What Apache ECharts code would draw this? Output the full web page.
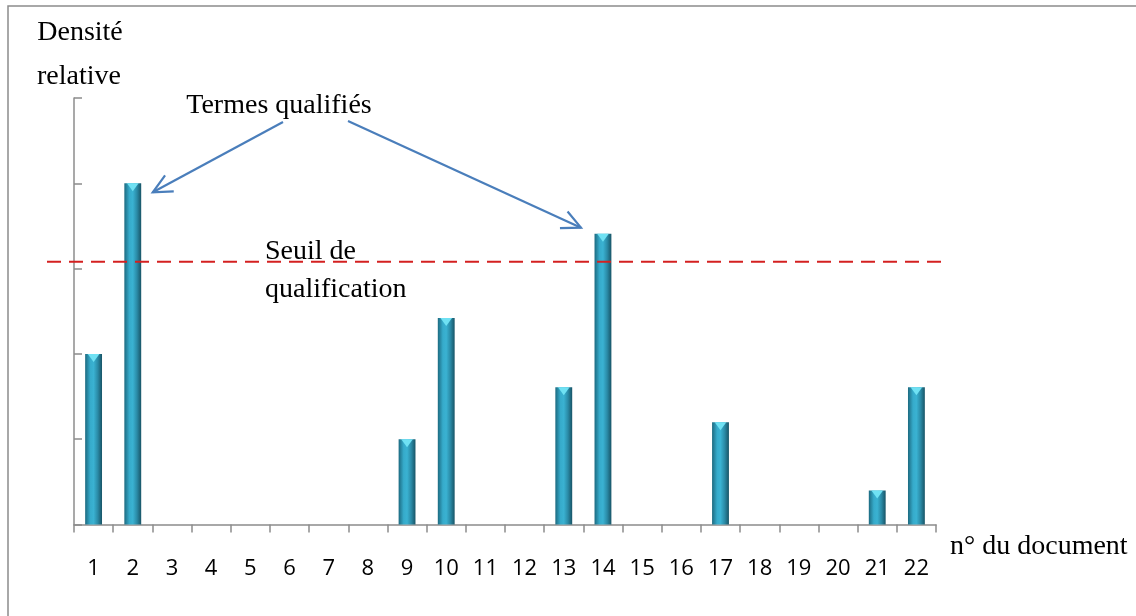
<!DOCTYPE html>
<html>
<head>
<meta charset="utf-8">
<script src="https://cdn.jsdelivr.net/npm/echarts@6/dist/echarts.min.js"></script>
<style>html,body{margin:0;padding:0;background:#fff;}#c{width:1136px;height:616px;}</style>
</head>
<body>
<div id="c"></div>
<script>
const categories = ['1','2','3','4','5','6','7','8','9','10','11','12','13','14','15','16','17','18','19','20','21','22'];
const densities = [2.0, 4.0, 0, 0, 0, 0, 0, 0, 1.0, 2.42, 0, 0, 1.61, 3.41, 0, 0, 1.2, 0, 0, 0, 0.4, 1.61];
const threshold = 3.08;
const yTicks = [0, 1, 2, 3, 4, 5];

const serif = '"Liberation Serif", "DejaVu Serif", serif';
const shown = densities.map(v => v > 0 ? v : '-');

const chart = echarts.init(document.getElementById('c'));
chart.setOption({
  backgroundColor: '#fff',
  animation: false,
  grid: { left: 74, right: 200, top: 98, bottom: 91.5 },
  xAxis: {
    type: 'category',
    data: categories,
    axisLine: { lineStyle: { color: '#8c8c8c', width: 1.5 } },
    axisTick: { show: true, length: 8, lineStyle: { color: '#8c8c8c', width: 1.5 } },
    axisLabel: { color: '#000', fontFamily: '"Open Sans", sans-serif', fontSize: 22, margin: 33 },
    splitLine: { show: false }
  },
  yAxis: {
    type: 'value',
    min: yTicks[0],
    max: yTicks[yTicks.length - 1],
    interval: 1,
    axisLine: { show: true, lineStyle: { color: '#8c8c8c', width: 1.5 } },
    axisTick: { show: true, inside: true, length: 8, lineStyle: { color: '#8c8c8c', width: 1.5 } },
    axisLabel: { show: false },
    splitLine: { show: false }
  },
  series: [
    {
      type: 'bar',
      data: shown,
      barWidth: '43%',
      itemStyle: {
        color: new echarts.graphic.LinearGradient(0, 0, 1, 0, [
          { offset: 0, color: '#1c6a80' },
          { offset: 0.3, color: '#36abcb' },
          { offset: 0.5, color: '#3ab2d2' },
          { offset: 0.75, color: '#2a8aa6' },
          { offset: 1, color: '#185466' }
        ]),
        shadowBlur: 5,
        shadowColor: 'rgba(0,0,0,0.22)',
        shadowOffsetX: 2,
        shadowOffsetY: 1
      }
    },
    {
      type: 'pictorialBar',
      data: shown,
      barGap: '-100%',
      symbol: 'path://M0,0 L10,0 L5,4 Z',
      symbolSize: ['43%', 8],
      symbolPosition: 'end',
      symbolOffset: [0, 0],
      z: 5,
      itemStyle: { color: '#6fe1f3' }
    }
  ]
});

function drawAnnotations() {
  const p2 = chart.convertToPixel({ seriesIndex: 0 }, [1, densities[1]]);
  const p14 = chart.convertToPixel({ seriesIndex: 0 }, [13, densities[13]]);
  const yThr = chart.convertToPixel({ yAxisIndex: 0 }, threshold);
  const arrowColor = '#4a7ebb';
  function arrow(x1, y1, x2, y2) {
    const ang = Math.atan2(y2 - y1, x2 - x1);
    const L = 21, a = 0.45;
    const h1 = [x2 - L * Math.cos(ang - a), y2 - L * Math.sin(ang - a)];
    const h2 = [x2 - L * Math.cos(ang + a), y2 - L * Math.sin(ang + a)];
    return [
      { type: 'line', shape: { x1, y1, x2, y2 }, style: { stroke: arrowColor, lineWidth: 2.2 }, z: 10 },
      { type: 'polyline', shape: { points: [h1, [x2, y2], h2] }, style: { stroke: arrowColor, lineWidth: 2.2, fill: null }, z: 10 }
    ];
  }
  const t1 = [p2[0] + 20, p2[1] + 9];
  const t2 = [p14[0] - 22, p14[1] - 6];
  const font = '28px ' + serif;
  chart.setOption({
    graphic: [
      { type: 'rect', shape: { x: 8, y: 6, width: 1300, height: 800 }, style: { stroke: '#8c8c8c', lineWidth: 1.5, fill: null }, silent: true },
      { type: 'line', shape: { x1: 47, y1: yThr, x2: 946, y2: yThr }, style: { stroke: '#d42020', lineWidth: 2, lineDash: [14, 8] }, z: 8 },
      ...arrow(283, 122, t1[0], t1[1]),
      ...arrow(348, 121, t2[0], t2[1]),
      { type: 'text', x: 80, y: 33, style: { text: 'Densité', font, fill: '#000', align: 'center', verticalAlign: 'middle' }, z: 20 },
      { type: 'text', x: 79, y: 77, style: { text: 'relative', font, fill: '#000', align: 'center', verticalAlign: 'middle' }, z: 20 },
      { type: 'text', x: 279, y: 106, style: { text: 'Termes qualifiés', font, fill: '#000', align: 'center', verticalAlign: 'middle' }, z: 20 },
      { type: 'text', x: 265, y: 252, style: { text: 'Seuil de', font, fill: '#000', align: 'left', verticalAlign: 'middle' }, z: 20 },
      { type: 'text', x: 265, y: 290, style: { text: 'qualification', font, fill: '#000', align: 'left', verticalAlign: 'middle' }, z: 20 },
      { type: 'text', x: 950, y: 547, style: { text: 'n° du document', font, fill: '#000', align: 'left', verticalAlign: 'middle' }, z: 20 }
    ]
  });
}
drawAnnotations();
</script>
</body>
</html>
